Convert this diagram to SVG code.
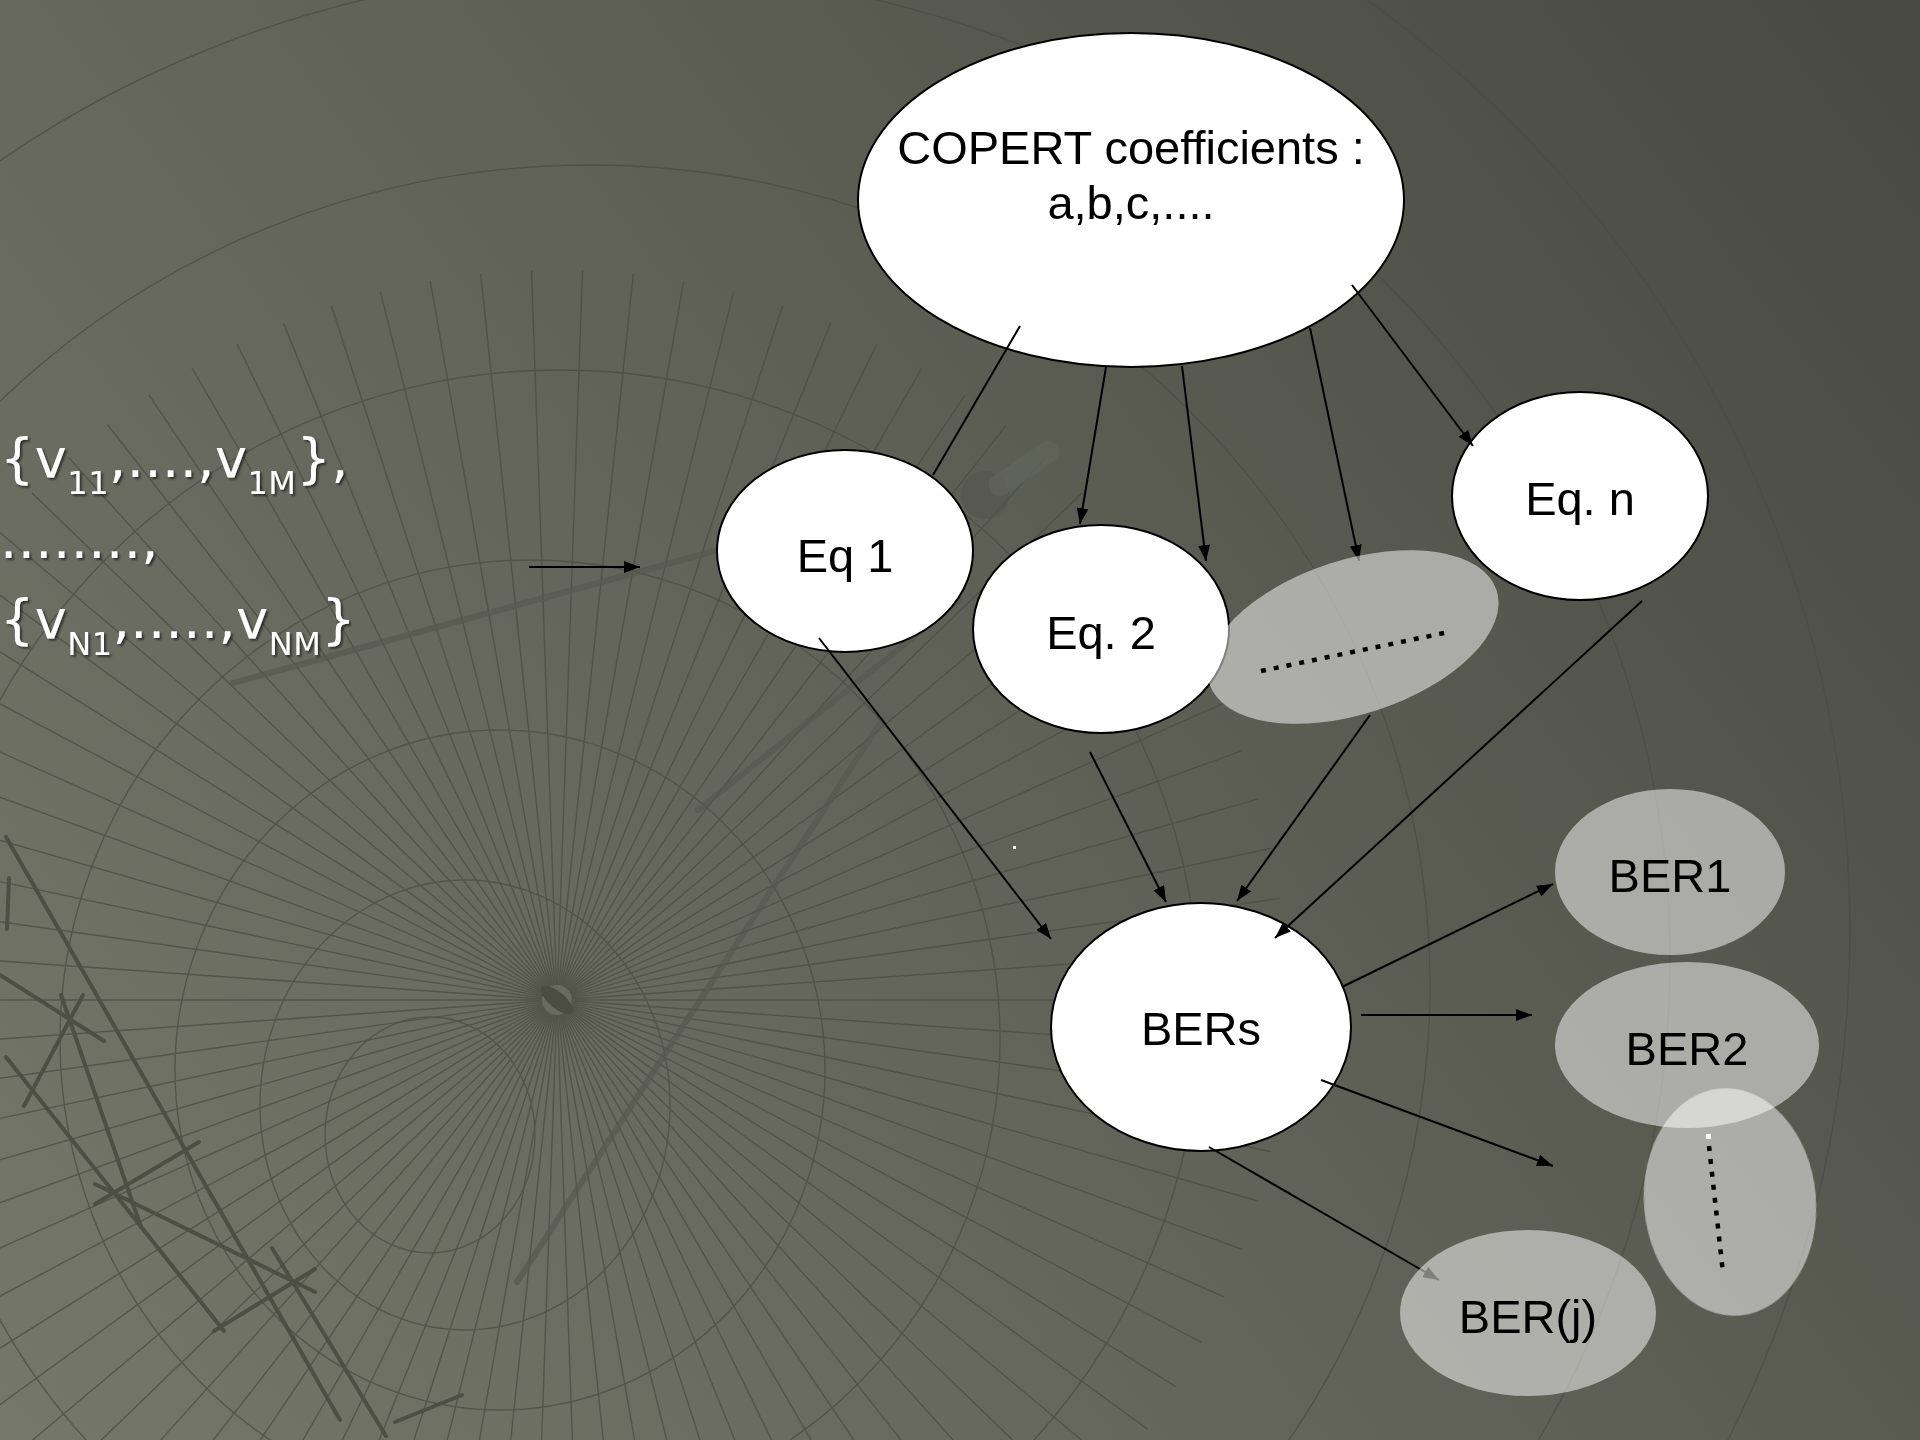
<svg xmlns="http://www.w3.org/2000/svg" xmlns:xlink="http://www.w3.org/1999/xlink" width="1920" height="1440" viewBox="0 0 1920 1440">
<defs>
<linearGradient id="bg" x1="0" y1="1440" x2="1920" y2="0" gradientUnits="userSpaceOnUse">
<stop offset="0" stop-color="#75776b"/>
<stop offset="0.5" stop-color="#606257"/>
<stop offset="1" stop-color="#474942"/>
</linearGradient>
<marker id="ah" markerWidth="16" markerHeight="12" refX="16" refY="6" orient="auto" markerUnits="userSpaceOnUse">
<path d="M0,0 L16,6 L0,12 Z" fill="#000"/>
</marker>
<filter id="sh" x="-10%" y="-20%" width="130%" height="150%">
<feDropShadow dx="2" dy="2" stdDeviation="1" flood-color="#000" flood-opacity="0.55"/>
</filter>
<line id="ray" x1="572" y1="1000" x2="1287" y2="1000"/>
<g id="fan">
<use href="#ray"/>
<use href="#ray" transform="rotate(4 557 1000)"/>
<use href="#ray" transform="rotate(8 557 1000)"/>
<use href="#ray" transform="rotate(12 557 1000)"/>
<use href="#ray" transform="rotate(16 557 1000)"/>
<use href="#ray" transform="rotate(20 557 1000)"/>
<use href="#ray" transform="rotate(24 557 1000)"/>
<use href="#ray" transform="rotate(28 557 1000)"/>
<use href="#ray" transform="rotate(32 557 1000)"/>
</g>
</defs>
<style>
.web{fill:none;stroke:#4b4d43;stroke-width:1.4;opacity:0.75}
.stick{stroke:#4d4f45;stroke-width:4;stroke-linecap:round}
.faint{stroke:#575950;stroke-width:6;stroke-linecap:round;opacity:0.7}
.wnode{fill:#ffffff;stroke:#000;stroke-width:2}
.gnode{fill:#ffffff;fill-opacity:0.5;stroke:none}
.lbl{font-family:"Liberation Sans",Arial,Helvetica,sans-serif;font-size:47px;fill:#000;text-anchor:middle}
.vt{font-family:"DejaVu Sans",Verdana,sans-serif;font-size:54px;fill:#ffffff;letter-spacing:0.5px}
.sub{font-size:32px}
.conn{stroke:#000;stroke-width:2;fill:none}
.arr{marker-end:url(#ah)}
.dots{stroke:#000;stroke-width:4.5;stroke-dasharray:5 8;fill:none}
</style>

<g id="background">
<rect x="0" y="0" width="1920" height="1440" fill="url(#bg)"/>
<g class="web">
<use href="#fan"/>
<use href="#fan" transform="rotate(36 557 1000)"/>
<use href="#fan" transform="rotate(72 557 1000)"/>
<use href="#fan" transform="rotate(108 557 1000)"/>
<use href="#fan" transform="rotate(144 557 1000)"/>
<use href="#fan" transform="rotate(180 557 1000)"/>
<use href="#fan" transform="rotate(216 557 1000)"/>
<use href="#fan" transform="rotate(252 557 1000)"/>
<use href="#fan" transform="rotate(288 557 1000)"/>
<use href="#fan" transform="rotate(324 557 1000)"/>
<ellipse cx="430" cy="1135" rx="105" ry="118"/>
<ellipse cx="465" cy="1105" rx="205" ry="225"/>
<ellipse cx="500" cy="1070" rx="325" ry="340"/>
<ellipse cx="530" cy="1040" rx="470" ry="480"/>
<ellipse cx="560" cy="1010" rx="640" ry="640"/>
<ellipse cx="590" cy="985" rx="840" ry="820"/>
<ellipse cx="620" cy="960" rx="1050" ry="990"/>
<ellipse cx="650" cy="930" rx="1200" ry="1160"/>
</g>
<ellipse cx="557" cy="1000" rx="20" ry="8" fill="#4b4d43" transform="rotate(40 557 1000)"/>
<line class="stick" x1="6" y1="837" x2="340" y2="1420"/>
<line class="stick" x1="6" y1="1057" x2="224" y2="1331"/>
<line class="stick" x1="95" y1="1184" x2="315" y2="1292"/>
<line class="stick" x1="95" y1="1204" x2="199" y2="1142"/>
<line class="stick" x1="214" y1="1331" x2="315" y2="1269"/>
<line class="stick" x1="272" y1="1248" x2="386" y2="1436"/>
<line class="stick" x1="395" y1="1422" x2="462" y2="1395"/>
<line class="stick" x1="61" y1="995" x2="141" y2="1227"/>
<line class="stick" x1="24" y1="1106" x2="83" y2="995"/>
<line class="stick" x1="0" y1="975" x2="104" y2="1041"/>
<line class="stick" x1="9" y1="878" x2="7" y2="929"/>
<line class="faint" x1="517" y1="1282" x2="882" y2="720"/>
<line class="faint" x1="698" y1="810" x2="960" y2="600"/>
<line class="faint" x1="233" y1="683" x2="722" y2="549"/>
<circle cx="985" cy="495" r="24" fill="#53554c" opacity="0.6"/>
<line x1="1000" y1="485" x2="1048" y2="452" stroke="#63655c" stroke-width="22" stroke-linecap="round" opacity="0.7"/>
<rect x="1013" y="846" width="3" height="3" fill="#ffffff"/>
</g>

<g id="input-sets" filter="url(#sh)">
<text class="vt" x="0" y="477">{v<tspan class="sub" dy="17">11</tspan><tspan dy="-17">,....,v</tspan><tspan class="sub" dy="17">1M</tspan><tspan dy="-17">},</tspan></text>
<text class="vt" x="0" y="558">........,</text>
<text class="vt" x="0" y="638">{v<tspan class="sub" dy="17">N1</tspan><tspan dy="-17">,.....,v</tspan><tspan class="sub" dy="17">NM</tspan><tspan dy="-17">}</tspan></text>
</g>

<g id="copert">
<ellipse class="wnode" cx="1131" cy="200" rx="273" ry="167"/>
<text class="lbl" x="1131" y="164">COPERT coefficients :</text>
<text class="lbl" x="1131" y="219">a,b,c,....</text>
</g>
<g id="eq1">
<ellipse class="wnode" cx="845" cy="551" rx="128" ry="101"/>
<text class="lbl" x="845" y="572">Eq 1</text>
</g>
<g id="eq2">
<ellipse class="wnode" cx="1101" cy="629" rx="128" ry="104"/>
<text class="lbl" x="1101" y="649">Eq. 2</text>
</g>
<g id="eqn">
<ellipse class="wnode" cx="1580" cy="496" rx="128" ry="104"/>
<text class="lbl" x="1580" y="515">Eq. n</text>
</g>
<g id="bers">
<ellipse class="wnode" cx="1201" cy="1027" rx="150" ry="124"/>
<text class="lbl" x="1201" y="1045">BERs</text>
</g>
<g id="ber1">
<ellipse class="gnode" cx="1670" cy="872" rx="115" ry="83"/>
<text class="lbl" x="1670" y="892">BER1</text>
</g>
<g id="ber2">
<ellipse class="gnode" cx="1687" cy="1045" rx="132" ry="83"/>
<text class="lbl" x="1687" y="1065">BER2</text>
</g>
<g id="ber-dots">
<ellipse class="gnode" cx="1730" cy="1202" rx="86" ry="114" transform="rotate(-5 1730 1202)"/>
<line class="dots" x1="1709" y1="1146" x2="1723" y2="1273"/>
<rect x="1706" y="1134" width="5" height="5" fill="#ffffff"/>
</g>

<g id="connectors">
<line class="conn" x1="1020" y1="326" x2="933" y2="475"/>
<line class="conn arr" x1="1106" y1="367" x2="1080" y2="524"/>
<line class="conn arr" x1="1182" y1="366" x2="1206" y2="561"/>
<line class="conn arr" x1="1310" y1="328" x2="1359" y2="561"/>
<line class="conn arr" x1="1352" y1="285" x2="1473" y2="446"/>
<line class="conn arr" x1="529" y1="567" x2="640" y2="567"/>
<line class="conn arr" x1="819" y1="638" x2="1051" y2="939"/>
<line class="conn arr" x1="1090" y1="752" x2="1166" y2="902"/>
<line class="conn arr" x1="1370" y1="715" x2="1237" y2="901"/>
<line class="conn arr" x1="1642" y1="601" x2="1275" y2="938"/>
<line class="conn arr" x1="1342" y1="987" x2="1553" y2="884"/>
<line class="conn arr" x1="1361" y1="1015" x2="1532" y2="1015"/>
<line class="conn arr" x1="1321" y1="1080" x2="1553" y2="1166"/>
<line class="conn arr" x1="1209" y1="1147" x2="1439" y2="1280"/>
</g>

<g id="eq-dots">
<ellipse class="gnode" cx="1353" cy="637" rx="151" ry="77" transform="rotate(-18 1353 637)"/>
<line class="dots" x1="1261" y1="671" x2="1449" y2="632"/>
</g>
<g id="berj">
<ellipse class="gnode" cx="1528" cy="1313" rx="128" ry="83"/>
<text class="lbl" x="1528" y="1333">BER(j)</text>
</g>
</svg>
